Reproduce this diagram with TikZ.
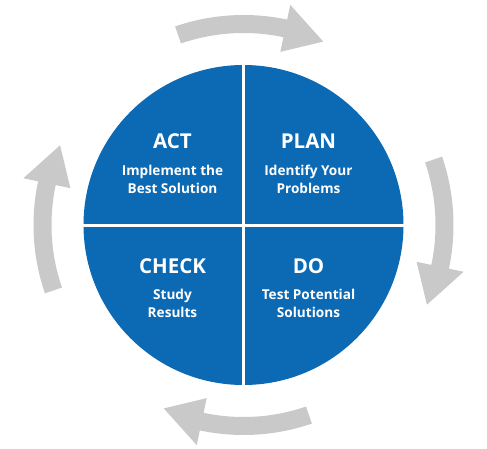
\documentclass[tikz,border=0pt]{standalone}
\usepackage{fontspec}
\setmainfont{Open Sans}
\definecolor{pdcablue}{RGB}{12,106,180}
\definecolor{arrowgray}{RGB}{201,201,201}
\begin{document}
\begin{tikzpicture}[x=1pt,y=1pt,
  title/.style={text=white,font=\bfseries\fontsize{20.5}{24}\selectfont,anchor=base,inner sep=0pt},
  sub/.style={text=white,font=\bfseries\fontsize{13.6}{18}\selectfont,anchor=base,inner sep=0pt},
  cyclearrow/.style={fill=arrowgray},
  gapline/.style={draw=white,line width=3pt}]
\useasboundingbox (0,0) rectangle (487,448);
\coordinate (c) at (243.5,223);
\fill[pdcablue] (c) circle (160);
\draw[gapline] (243.5,60) -- (243.5,386);
\draw[gapline] (80,223) -- (407,223);
\foreach \k in {0,90,180,270}{
  \begin{scope}[shift={(c)},rotate=-\k]
    \fill[cyclearrow] (109:210) arc[start angle=109,end angle=78,radius=210]
      -- (78:225) -- (66.5:200) -- (78:177) -- (78:192)
      arc[start angle=78,end angle=109,radius=192] -- cycle;
  \end{scope}
}
\node[title] (act) at (172.5,299) {ACT};
\node[sub] (act1) at (172.5,273) {Implement the};
\node[sub] (act2) at (172.5,255) {Best Solution};
\node[title] (plan) at (308.5,299) {PLAN};
\node[sub] (plan1) at (308.5,273) {Identify Your};
\node[sub] (plan2) at (308.5,255) {Problems};
\node[title] (check) at (172.5,175) {CHECK};
\node[sub] (check1) at (172.5,149) {Study};
\node[sub] (check2) at (172.5,131) {Results};
\node[title] (do) at (308.5,175) {DO};
\node[sub] (do1) at (308.5,149) {Test Potential};
\node[sub] (do2) at (308.5,131) {Solutions};
\end{tikzpicture}
\end{document}
